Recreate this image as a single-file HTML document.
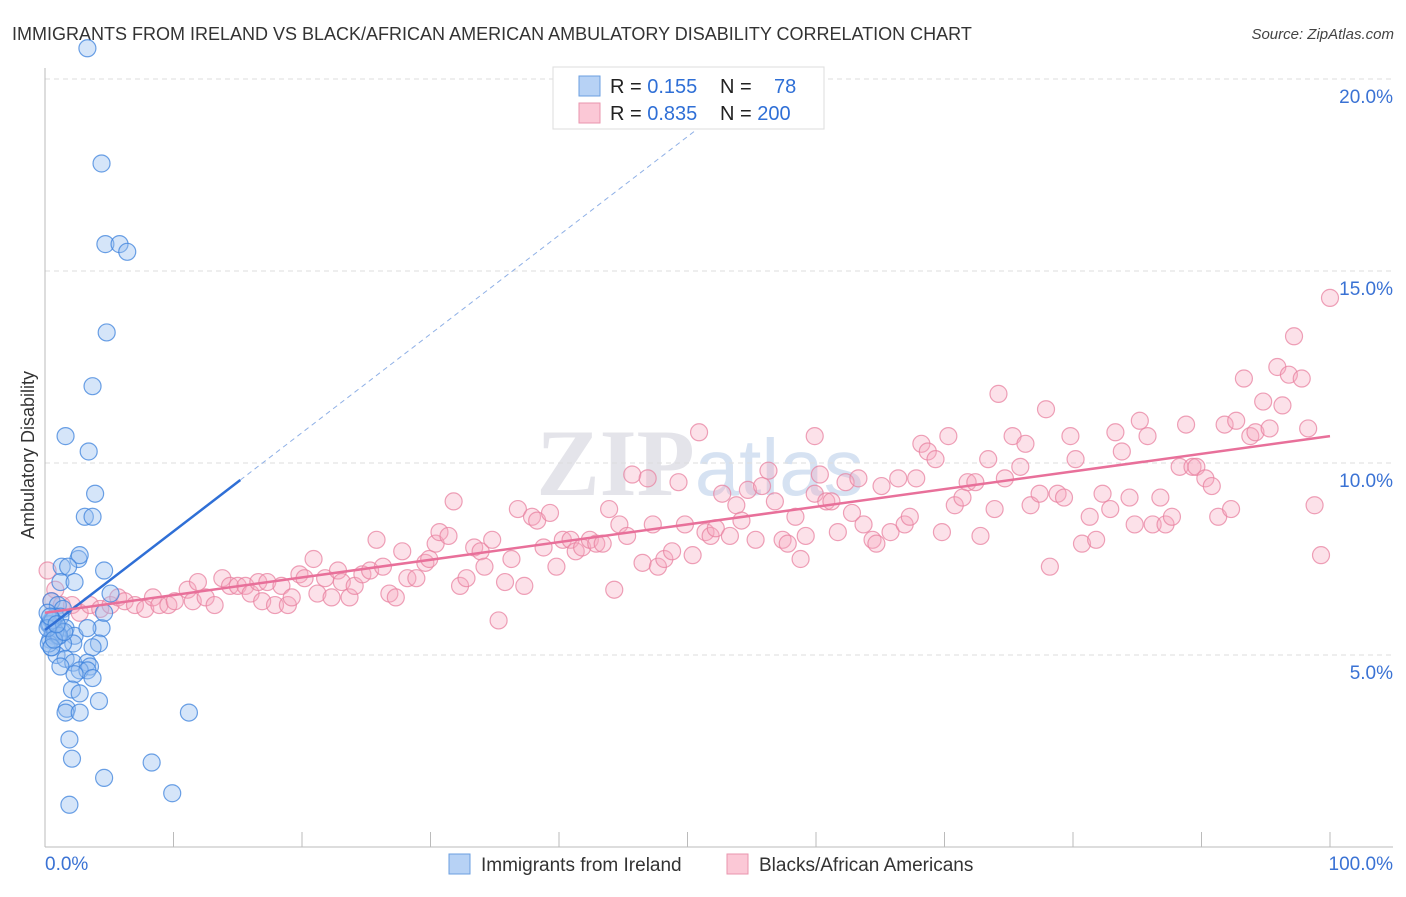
<!DOCTYPE html>
<html><head><meta charset="utf-8"><style>
body{margin:0;background:#fff;font-family:"Liberation Sans",sans-serif;}
</style></head><body>
<svg id="chart" width="1406" height="892" xmlns="http://www.w3.org/2000/svg">
<text x="12" y="40" font-size="18" fill="#333">IMMIGRANTS FROM IRELAND VS BLACK/AFRICAN AMERICAN AMBULATORY DISABILITY CORRELATION CHART</text>
<text x="1394" y="39" font-size="15" fill="#444" font-style="italic" text-anchor="end">Source: ZipAtlas.com</text>
<text x="700" y="495" font-size="95" fill="#e4e4ea" text-anchor="middle" font-family="Liberation Serif,serif" font-weight="bold">ZIP<tspan fill="#d6e2f2" font-family="Liberation Sans,sans-serif" font-weight="normal" font-size="80">atlas</tspan></text>
<g id="grid"></g>
<g id="axes"></g>
<g id="pts"></g>
<g id="lines"></g>
<text transform="translate(34,455) rotate(-90)" font-size="18" fill="#333" text-anchor="middle">Ambulatory Disability</text>
<g>
<rect x="553" y="67" width="271" height="62" fill="#fff" stroke="#ddd"/>
<rect x="579" y="76" width="21" height="20" fill="#b7d2f5" stroke="#6b9fe0"/>
<rect x="579" y="103" width="21" height="20" fill="#fbc8d6" stroke="#e995ae"/>
<text x="610" y="93" font-size="20" fill="#222">R = <tspan fill="#2f6fd6"> 0.155</tspan><tspan x="720">N = </tspan><tspan x="774" fill="#2f6fd6">78</tspan></text>
<text x="610" y="120" font-size="20" fill="#222">R = <tspan fill="#2f6fd6">0.835</tspan><tspan x="720">N = </tspan><tspan fill="#2f6fd6">200</tspan></text>
</g>
<g>
<rect x="449" y="854" width="21" height="20" fill="#b7d2f5" stroke="#6b9fe0"/>
<text x="481" y="871" font-size="19" fill="#333">Immigrants from Ireland</text>
<rect x="727" y="854" width="21" height="20" fill="#fbc8d6" stroke="#e995ae"/>
<text x="759" y="871" font-size="19" fill="#333">Blacks/African Americans</text>
</g>
</svg>
<script>
const yTicks=[5,10,15,20];
const yTickLabels=["5.0%","10.0%","15.0%","20.0%"];
const xTicks=[0,10,20,30,40,50,60,70,80,90,100];
const blueX=[3.3,4.4,4.7,5.8,6.4,4.8,3.7,1.6,3.4,3.9,3.1,3.7,2.6,2.7,1.3,1.8,4.6,1.2,2.3,5.1,0.5,1.0,1.4,0.8,1.2,0.5,0.9,0.7,1.3,1.6,2.3,0.3,0.4,4.4,3.3,4.2,2.2,1.4,3.7,0.5,0.9,1.6,2.2,3.3,1.2,3.5,2.7,3.3,3.7,2.3,2.1,2.7,4.2,1.7,1.6,2.7,11.2,1.9,2.1,8.3,4.6,9.9,1.9,0.6,0.4,1.0,0.2,0.8,4.6,0.3,0.6,1.1,0.5,0.2,0.7,0.4,1.5,0.9];
const blueY=[20.8,17.8,15.7,15.7,15.5,13.4,12.0,10.7,10.3,9.2,8.6,8.6,7.5,7.6,7.3,7.3,7.2,6.9,6.9,6.6,6.4,6.3,6.2,6.0,6.0,5.9,5.7,5.5,5.6,5.7,5.5,5.8,5.4,5.7,5.7,5.3,5.3,5.3,5.2,5.2,5.0,4.9,4.8,4.8,4.7,4.7,4.6,4.6,4.4,4.5,4.1,4.0,3.8,3.6,3.5,3.5,3.5,2.8,2.3,2.2,1.8,1.4,1.1,5.6,5.8,5.5,6.1,5.6,6.1,5.3,5.9,5.5,5.2,5.7,5.4,6.0,5.6,5.8];
const pinkX=[0.2,0.8,0.5,1.3,2.1,2.7,3.5,4.3,5.1,5.7,6.2,7.0,7.8,8.4,8.9,9.6,10.1,11.1,11.5,11.9,12.5,13.2,13.8,14.4,15.0,15.6,16.0,16.6,16.9,17.3,17.9,18.4,18.9,19.2,19.8,20.2,20.9,21.2,21.8,22.3,22.8,23.1,23.7,24.1,24.7,25.3,25.8,26.3,26.8,27.3,27.8,28.2,28.9,29.6,29.9,30.4,30.7,31.4,31.8,32.3,32.8,33.4,33.9,34.2,34.8,35.3,35.8,36.3,36.8,37.3,37.9,38.3,38.8,39.3,39.8,40.3,40.9,41.3,41.8,42.4,42.9,43.4,43.9,44.3,44.7,45.3,45.7,46.5,46.9,47.3,47.7,48.2,48.8,49.3,49.8,50.4,50.9,51.4,51.8,52.2,52.7,53.3,53.8,54.2,54.7,55.3,55.8,56.3,56.8,57.4,57.8,58.4,58.8,59.2,59.9,59.9,60.3,60.8,61.2,61.7,62.3,62.8,63.3,63.7,64.4,64.7,65.1,65.8,66.4,66.9,67.3,67.8,68.2,68.7,69.3,69.8,70.3,70.8,71.4,71.8,72.4,72.8,73.4,73.9,74.2,74.7,75.3,75.9,76.3,76.7,77.4,77.9,78.2,78.8,79.3,79.8,80.2,80.7,81.3,81.8,82.3,82.9,83.3,83.8,84.4,84.8,85.2,85.8,86.2,86.8,87.2,87.7,88.3,88.8,89.3,89.6,90.3,90.8,91.3,91.8,92.3,92.7,93.3,93.8,94.2,94.8,95.3,95.9,96.3,96.8,97.2,97.8,98.3,98.8,99.3,100];
const pinkY=[7.2,6.7,6.4,6.3,6.3,6.1,6.3,6.2,6.3,6.5,6.4,6.3,6.2,6.5,6.3,6.3,6.4,6.7,6.4,6.9,6.5,6.3,7.0,6.8,6.8,6.8,6.6,6.9,6.4,6.9,6.3,6.8,6.3,6.5,7.1,7.0,7.5,6.6,7.0,6.5,7.2,6.9,6.5,6.8,7.1,7.2,8.0,7.3,6.6,6.5,7.7,7.0,7.0,7.4,7.5,7.9,8.2,8.1,9.0,6.8,7.0,7.8,7.7,7.3,8.0,5.9,6.9,7.5,8.8,6.8,8.6,8.5,7.8,8.7,7.3,8.0,8.0,7.7,7.8,8.0,7.9,7.9,8.8,6.7,8.4,8.1,9.7,7.4,9.6,8.4,7.3,7.5,7.7,9.5,8.4,7.6,10.8,8.2,8.1,8.3,9.2,8.1,8.9,8.5,9.3,8.0,9.4,9.8,9.0,8.0,7.9,8.6,7.5,8.1,10.7,9.2,9.7,9.0,9.0,8.2,9.5,8.7,9.6,8.4,8.0,7.9,9.4,8.2,9.6,8.4,8.6,9.6,10.5,10.3,10.1,8.2,10.7,8.9,9.1,9.5,9.5,8.1,10.1,8.8,11.8,9.6,10.7,9.9,10.5,8.9,9.2,11.4,7.3,9.2,9.1,10.7,10.1,7.9,8.6,8.0,9.2,8.8,10.8,10.3,9.1,8.4,11.1,10.7,8.4,9.1,8.4,8.6,9.9,11.0,9.9,9.9,9.6,9.4,8.6,11.0,8.8,11.1,12.2,10.7,10.8,11.6,10.9,12.5,11.5,12.3,13.3,12.2,10.9,8.9,7.6,14.3];
const blueTrendX=[0,15.2,57];
const pinkTrendX=[0,100];
const blueIntercept=5.65, blueSlope=0.257;
const pinkIntercept=6.1, pinkSlope=0.046;

const X=v=>45+v*12.85;
const Y=v=>847-v*38.4;
const NS="http://www.w3.org/2000/svg";
function mk(tag,attrs,parent){const e=document.createElementNS(NS,tag);for(const k in attrs)e.setAttribute(k,attrs[k]);parent.appendChild(e);return e;}
const grid=document.getElementById('grid'),axes=document.getElementById('axes'),pts=document.getElementById('pts'),lines=document.getElementById('lines');
yTicks.forEach((t,i)=>{
  const l=mk('line',{x1:45,x2:1393,y1:Y(t),y2:Y(t),stroke:'#ddd','stroke-dasharray':'5,4'},grid);
  
  
  const tx=mk('text',{x:1393,y:Y(t)+24-16,'font-size':19,fill:'#3a72d4','text-anchor':'end'},grid);
  tx.setAttribute('y',Y(t)+24);
  tx.textContent=yTickLabels[i];
  
  
});
const ya=mk('line',{x1:45,x2:45,y1:68,y2:847,stroke:'#bbb'},axes);


const xa=mk('line',{x1:45,x2:1393,y1:847,y2:847,stroke:'#bbb'},axes);


xTicks.forEach(t=>{
  const l=mk('line',{x1:X(t),x2:X(t),y1:832,y2:847,stroke:'#bbb'},axes);
  
  
});
const xl0=mk('text',{x:45,y:870,'font-size':19,fill:'#3a72d4'},axes);xl0.textContent='0.0%';


const xl1=mk('text',{x:1393,y:870,'font-size':19,fill:'#3a72d4','text-anchor':'end'},axes);xl1.textContent='100.0%';


pinkX.forEach((x,i)=>{
  const c=mk('circle',{cx:X(x),cy:Y(pinkY[i]),r:8.5,fill:'rgba(245,170,192,0.35)',stroke:'rgba(232,130,160,0.75)','stroke-width':1.2},pts);
  
  
});
blueX.forEach((x,i)=>{
  const c=mk('circle',{cx:X(x),cy:Y(blueY[i]),r:8.5,fill:'rgba(150,190,240,0.4)',stroke:'rgba(60,130,220,0.75)','stroke-width':1.2},pts);
  
  
});
const bl=mk('line',{x1:X(blueTrendX[0]),y1:Y(blueIntercept),x2:X(blueTrendX[1]),y2:Y(blueIntercept+blueSlope*blueTrendX[1]),stroke:'#2f6fd6','stroke-width':2.5},lines);


const bd=mk('line',{x1:X(blueTrendX[1]),y1:Y(blueIntercept+blueSlope*blueTrendX[1]),x2:X(blueTrendX[2]),y2:Y(blueIntercept+blueSlope*blueTrendX[2]),stroke:'#8fb0e6','stroke-width':1,'stroke-dasharray':'5,4'},lines);


const pl=mk('line',{x1:X(pinkTrendX[0]),y1:Y(pinkIntercept),x2:X(pinkTrendX[1]),y2:Y(pinkIntercept+pinkSlope*pinkTrendX[1]),stroke:'#e8709a','stroke-width':2.5},lines);


</script>
</body></html>
